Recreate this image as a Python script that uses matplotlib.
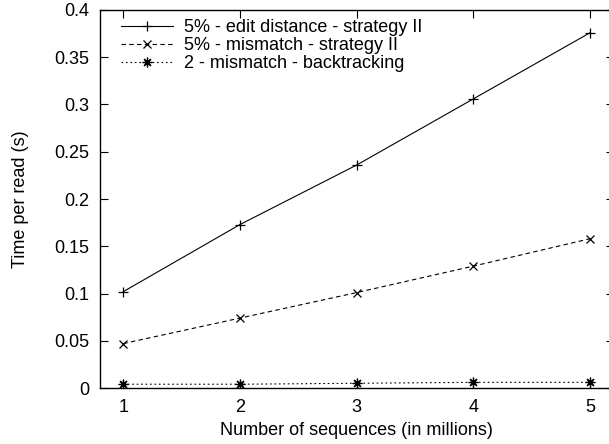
import numpy as np
import matplotlib
matplotlib.use('Agg')
import matplotlib.pyplot as plt

plt.rcParams['font.family'] = ['Liberation Sans', 'DejaVu Sans']

# numero de sequencias (milhoes)
sequencias = [1, 2, 3, 4, 5]

# tempo por leitura (s)
edit_strat2 = [0.102, 0.173, 0.236, 0.306, 0.376]
mismatch_strat2 = [0.047, 0.074, 0.101, 0.129, 0.158]
mismatch_backtrack = [0.004, 0.004, 0.005, 0.006, 0.006]

rotulos = ['5% - edit distance - strategy II',
           '5% - mismatch - strategy II',
           '2 - mismatch - backtracking']

fs = 13

fig = plt.figure(figsize=(6.09, 4.44), dpi=100)
# eixo um pouco maior que a figura na direita (como no original recortado)
ax = fig.add_axes([100 / 609, 56 / 444, 513.5 / 609, 378 / 444])

ax.plot(sequencias, edit_strat2, color='black', lw=0.8, ls='-',
        marker='+', ms=7, mew=0.9, label=rotulos[0])
ax.plot(sequencias, mismatch_strat2, color='black', lw=0.8, ls=(0, (4, 3)),
        marker='x', ms=6, mew=0.9, label=rotulos[1])
ax.plot(sequencias, mismatch_backtrack, color='black', lw=0.8, ls=(0, (1.5, 2.5)),
        marker=(8, 2, 0), ms=7, mew=0.9, label=rotulos[2])

ax.set_xlim(0.8, 5.2)
ax.set_ylim(0, 0.4)
ax.set_xticks(sequencias)
ax.set_yticks(np.arange(0, 0.41, 0.05))
ax.set_yticklabels(['0', '0.05', '0.1', '0.15', '0.2', '0.25', '0.3', '0.35', '0.4'])

ax.tick_params(direction='in', length=5.5, width=0.8, top=True, right=True,
               labelsize=fs, colors='black')
ax.tick_params(axis='x', pad=8)
ax.tick_params(axis='y', pad=8)
for s in ax.spines.values():
    s.set_linewidth(1.0)

ax.set_xlabel('Number of sequences (in millions)', fontsize=fs, labelpad=4)
ax.set_ylabel('Time per read (s)', fontsize=fs, labelpad=18)

ax.legend(loc='upper left', bbox_to_anchor=(0.04, 0.975), frameon=False,
          fontsize=fs, handlelength=2.9, handletextpad=0.6, labelspacing=0.05,
          borderpad=0, borderaxespad=0)

fig.savefig('out.png', dpi=100)
